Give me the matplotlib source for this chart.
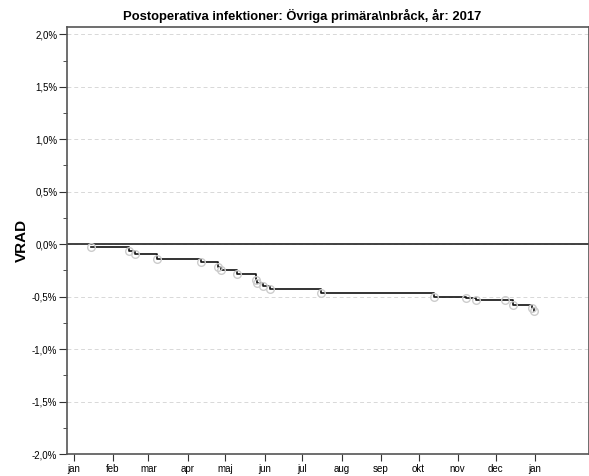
import matplotlib
matplotlib.use("Agg")
import matplotlib.pyplot as plt
from matplotlib.ticker import FixedLocator, MultipleLocator, FuncFormatter

plt.rcParams['font.family'] = ['Liberation Sans', 'DejaVu Sans']

# day of year 2017 (0 = 1 jan) and cumulative VRAD in percent
event_day = [13.5, 43.5, 48.7, 65.5, 100.3, 114.3, 116.2, 128.8, 144.1, 145.4,
             149.4, 155.7, 196.1, 285.3, 310.9, 318.8, 341.3, 347.8, 363.0, 364.5]
vrad = [-0.030, -0.069, -0.093, -0.138, -0.170, -0.217, -0.243, -0.281, -0.338, -0.370,
        -0.400, -0.427, -0.468, -0.500, -0.510, -0.529, -0.535, -0.576, -0.610, -0.640]

month_start = [0, 31, 59, 90, 120, 151, 181, 212, 243, 273, 304, 334, 365]
month_labels = ["jan", "feb", "mar", "apr", "maj", "jun", "jul", "aug", "sep",
                "okt", "nov", "dec", "jan"]

fig = plt.figure(figsize=(5.89, 4.76), dpi=100)
ax = fig.add_axes([67 / 589, 22 / 476, 1 - 67 / 589, 427 / 476])

ax.axhline(0, color="#333333", lw=1.3, zorder=2)
ax.step(event_day, vrad, where="post", color="#111111", lw=1.2, zorder=3)
ax.plot(event_day, vrad, "o", ms=5.5, mfc="none", mec="#cccccc", mew=1.0, zorder=4)

ax.set_xlim(-5.5, 408)
ax.set_ylim(-2.0, 2.07)

ax.yaxis.set_major_locator(MultipleLocator(0.5))
ax.yaxis.set_minor_locator(MultipleLocator(0.25))
ax.yaxis.set_major_formatter(FuncFormatter(lambda v, p: f"{v:.1f}%".replace(".", ",")))
ax.xaxis.set_major_locator(FixedLocator(month_start))
ax.set_xticklabels(month_labels)

ax.grid(axis="y", which="major", ls=(0, (4, 3)), color="#d8d8d8", lw=0.7)
ax.set_axisbelow(True)

ax.tick_params(axis="y", which="major", length=6, labelsize=7, color="#333333", pad=1)
ax.tick_params(axis="y", which="minor", length=3, color="#333333")
ax.tick_params(axis="x", length=5, labelsize=7, color="#333333", pad=2)

for s in ax.spines.values():
    s.set_color("#555555")
    s.set_linewidth(1.2)

ax.set_ylabel("VRAD", fontsize=11, fontweight="bold", labelpad=2)
fig.text(302 / 589, 1 - 16 / 476, "Postoperativa infektioner: Övriga primära\\nbråck, år: 2017",
         fontsize=9.4, fontweight="bold", ha="center", va="center")

fig.savefig("out.png", dpi=100)
